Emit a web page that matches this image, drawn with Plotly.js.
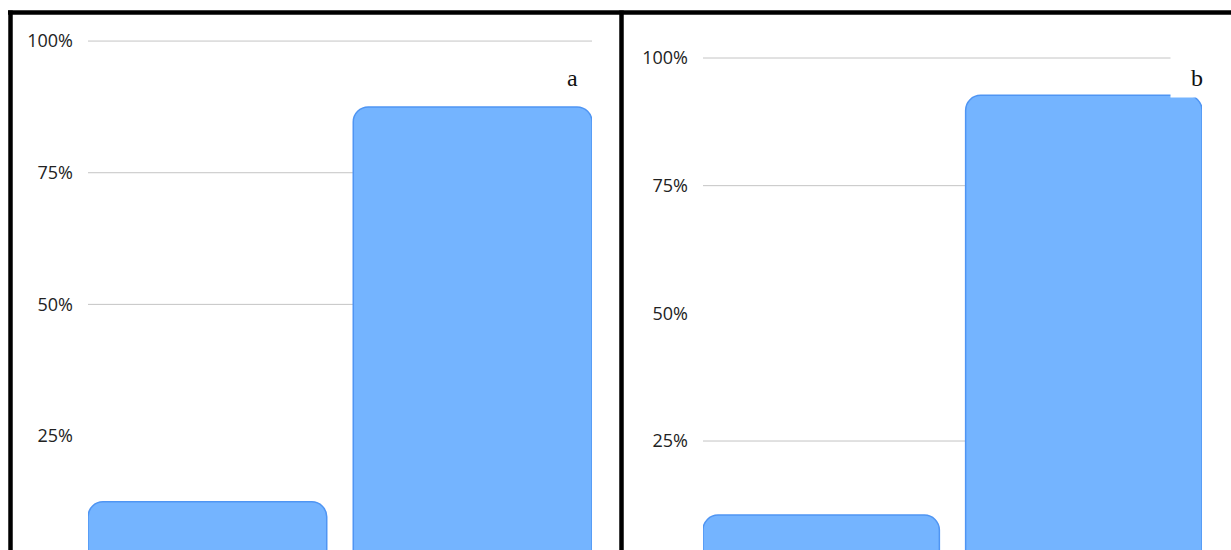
<!DOCTYPE html>
<html>
<head>
<meta charset="utf-8">
<script src="https://cdn.plot.ly/plotly-3.0.1.min.js"></script>
<style>html,body{margin:0;padding:0;background:#fff;}#chart{width:1231px;height:550px;}</style>
</head>
<body>
<div id="chart"></div>
<script>
// Data
const categories = ['Option 1', 'Option 2'];
const valuesA = [12.5, 87.5];
const valuesB = [10.5, 92.7];
const tickValues = [25, 50, 75, 100];
const tickLabels = ['25%', '50%', '75%', '100%'];
const gridA = [50, 75, 100];
const gridB = [25, 75, 100];
const panelLabels = ['a', 'b'];

const W = 1231, H = 550;
const px = v => v / W;
const py = v => 1 - v / H;

const barStyle = {
  type: 'bar',
  width: 0.9,
  marker: {color: '#74b4ff', line: {color: '#4f95f3', width: 1.5}},
  hoverinfo: 'none',
  showlegend: false
};

const traces = [
  Object.assign({}, barStyle, {x: categories, y: valuesA, xaxis: 'x', yaxis: 'y'}),
  Object.assign({}, barStyle, {x: categories, y: valuesB, xaxis: 'x2', yaxis: 'y2'})
];

const tickFont = {family: 'Open Sans, Noto Sans, sans-serif', size: 18, color: '#222'};

function yAx(range, anchor) {
  return {
    domain: [0, py(20)], range: range, anchor: anchor,
    tickvals: tickValues, ticktext: tickLabels, tickfont: tickFont,
    showgrid: false, zeroline: false, showline: false, ticks: '',
    ticklabelstandoff: 14
  };
}
function xAx(domain, anchor) {
  return {
    domain: domain, range: [-0.45, 1.45], anchor: anchor,
    showticklabels: false, showgrid: false, zeroline: false, showline: false, ticks: '',
    type: 'category'
  };
}

const shapes = [];
gridA.forEach(v => shapes.push({type: 'line', xref: 'x domain', yref: 'y', x0: 0, x1: 1, y0: v, y1: v,
  line: {color: '#c4c4c4', width: 1}, layer: 'below'}));
gridB.forEach(v => shapes.push({type: 'line', xref: 'x2 domain', yref: 'y2', x0: 0, x1: 1, y0: v, y1: v,
  line: {color: '#c4c4c4', width: 1}, layer: 'below'}));
// white patch behind label b
shapes.push({type: 'rect', xref: 'paper', yref: 'paper', x0: px(1170.5), x1: px(1199), y0: py(97.5), y1: py(40),
  fillcolor: '#ffffff', line: {width: 0}, layer: 'above'});
shapes.push({type: 'rect', xref: 'paper', yref: 'paper', x0: px(1198), x1: px(1204), y0: py(70), y1: py(40),
  fillcolor: '#ffffff', line: {width: 0}, layer: 'above'});
// panel frames
const frame = {color: '#000', width: 4.5};
shapes.push({type: 'line', xref: 'paper', yref: 'paper', x0: px(8), x1: px(1231), y0: py(12.5), y1: py(12.5), line: frame, layer: 'above'});
shapes.push({type: 'line', xref: 'paper', yref: 'paper', x0: px(10.5), x1: px(10.5), y0: py(10.5), y1: py(552), line: frame, layer: 'above'});
shapes.push({type: 'line', xref: 'paper', yref: 'paper', x0: px(621.5), x1: px(621.5), y0: py(10.5), y1: py(552), line: frame, layer: 'above'});

const labelFont = {family: 'Liberation Serif, DejaVu Serif, serif', size: 24, color: '#111'};
const annotations = [
  {text: panelLabels[0], xref: 'paper', yref: 'paper', x: px(572), y: py(78), xanchor: 'center', yanchor: 'middle', showarrow: false, font: labelFont},
  {text: panelLabels[1], xref: 'paper', yref: 'paper', x: px(1197), y: py(78), xanchor: 'center', yanchor: 'middle', showarrow: false, font: labelFont}
];

const layout = {
  width: W, height: H,
  margin: {l: 0, r: 0, t: 0, b: 0},
  paper_bgcolor: '#fff', plot_bgcolor: 'rgba(0,0,0,0)',
  barcornerradius: 15,
  xaxis: xAx([px(88), px(592)], 'y'),
  yaxis: yAx([3.36, 104.0], 'x'),
  xaxis2: xAx([px(703), px(1202)], 'y2'),
  yaxis2: yAx([3.66, 107.44], 'x2'),
  shapes: shapes,
  annotations: annotations,
  showlegend: false
};

Plotly.newPlot('chart', traces, layout, {displayModeBar: false, staticPlot: true});
</script>
</body>
</html>
